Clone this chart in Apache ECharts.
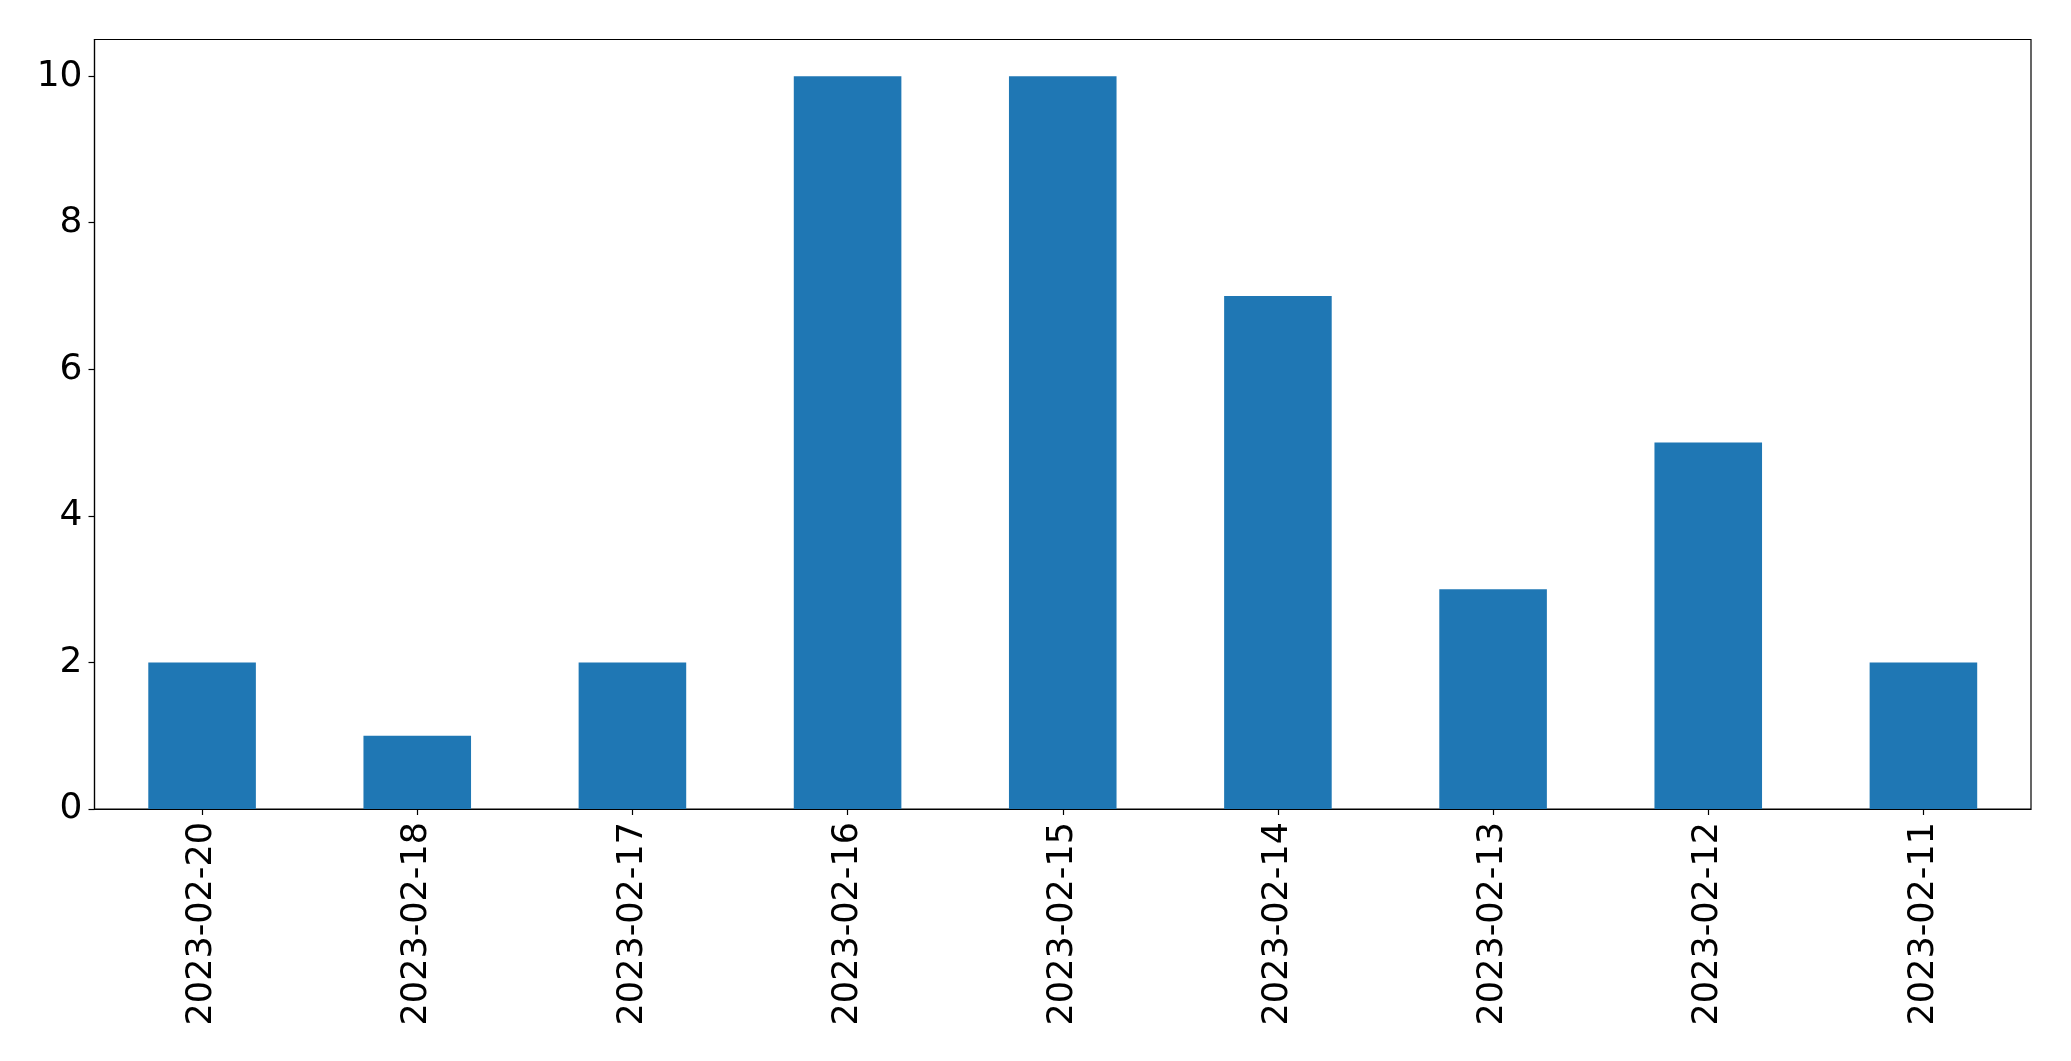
<!DOCTYPE html>
<html><head><meta charset="utf-8">
<script src="https://cdn.jsdelivr.net/npm/echarts@6/dist/echarts.min.js"></script>
<style>html,body{margin:0;padding:0;background:#fff}#c{width:2071px;height:1061px}</style>
</head><body><div id="c"></div>
<script>
const categories = ["2023-02-20","2023-02-18","2023-02-17","2023-02-16","2023-02-15","2023-02-14","2023-02-13","2023-02-12","2023-02-11"];
const values = [2,1,2,10,10,7,3,5,2];
const yTicks = [0,2,4,6,8,10];
const chart = echarts.init(document.getElementById('c'), null, {renderer:'canvas'});
const font = 'DejaVu Sans';
chart.setOption({
  animation:false,
  backgroundColor:'#fff',
  grid:{left:94.5,right:40,top:39.5,bottom:252,show:true,borderColor:'#000',borderWidth:1.2,containLabel:false},
  xAxis:{type:'category',data:categories,boundaryGap:true,
    axisLine:{show:true,lineStyle:{color:'#000',width:1.2}},
    axisTick:{show:true,alignWithLabel:true,length:6,lineStyle:{color:'#000',width:1.2}},
    axisLabel:{rotate:90,margin:13,color:'#000',fontSize:35,fontFamily:font,interval:0},
    splitLine:{show:false}},
  yAxis:{type:'value',min:0,max:10.5,
    axisLine:{show:true,lineStyle:{color:'#000',width:1.2}},
    axisTick:{show:true,length:6,customValues:yTicks,lineStyle:{color:'#000',width:1.2}},
    axisLabel:{customValues:yTicks,margin:12,color:'#000',fontSize:36,fontFamily:font},
    splitLine:{show:false}},
  series:[{type:'bar',data:values,barWidth:'50%',itemStyle:{color:'#1f77b4'}}]
});
</script></body></html>
